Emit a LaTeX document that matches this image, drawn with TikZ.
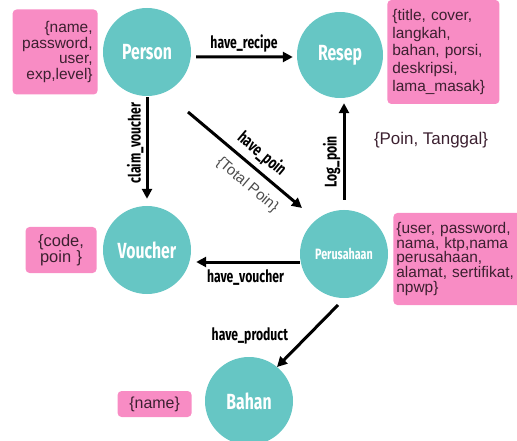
\documentclass[tikz,border=0pt]{standalone}
\usepackage{fontspec}
\setmainfont{Liberation Sans}
\newfontfamily\condfont[FakeStretch=0.72]{Fira Sans}
\usetikzlibrary{arrows.meta,positioning}
\definecolor{entteal}{RGB}{102,198,196}
\definecolor{attrpink}{RGB}{248,140,196}
\definecolor{attrtext}{RGB}{60,32,48}

\begin{document}
\begin{tikzpicture}[
  x=1bp,y=-1bp,
  ent/.style={circle,fill=entteal,text=white,minimum size=88bp,inner sep=0pt,font=\condfont\bfseries\fontsize{22}{22}\selectfont},
  attr/.style={fill=attrpink,rounded corners=4bp,text=attrtext,inner sep=5bp,font=\fontsize{15.5}{15.5}\selectfont},
  rel/.style={-{Triangle[length=10bp,width=10bp]},line width=3bp},
  lbl/.style={font=\condfont\bfseries\fontsize{17}{17}\selectfont,inner sep=2bp}
]
\useasboundingbox (0,0) rectangle (517,441);

\node[ent] (person) at (147,52) {Person};
\node[ent,minimum size=86bp] (resep) at (340,55) {Resep};
\node[ent] (voucher) at (147,250) {Voucher};
\node[ent,font=\condfont\bfseries\fontsize{15}{15}\selectfont] (perusahaan) at (344,254) {Perusahaan};
\node[ent] (bahan) at (249,401) {Bahan};

\node[attr,left=5bp of person,text width=75bp,align=right,minimum height=85bp] (personattr)
  {\{name,\\password,\\user,\\exp,level\}};
\node[attr,right=4bp of resep,yshift=3bp,text width=102bp,align=left,minimum height=104bp,font=\fontsize{15.5}{18}\selectfont] (resepattr)
  {\{title, cover,\\langkah,\\bahan, porsi,\\deskripsi,\\lama\_masak\}};
\node[attr,left=6bp of voucher,text width=61bp,align=center,minimum height=46bp,font=\fontsize{16.5}{15}\selectfont] (voucherattr)
  {\{code,\\poin \}};
\node[attr,right=5bp of perusahaan,yshift=-5bp,inner sep=3bp,text width=130bp,align=left,minimum height=92bp,font=\fontsize{15.5}{15}\selectfont] (perusahaanattr)
  {\{user, password,\\nama, ktp,nama\\perusahaan,\\alamat, sertifikat,\\npwp\}};
\node[attr,left=13bp of bahan,yshift=-3bp,text width=64bp,align=center,minimum height=26bp,font=\fontsize{16}{16}\selectfont] (bahanattr)
  {\{name\}};
\node[text=attrtext,font=\fontsize{17}{17}\selectfont] (logattr) at (431,140) {\{Poin, Tanggal\}};

\draw[rel,shorten <=5bp,shorten >=4bp] ([yshift=-5bp]person.east) -- node[lbl,above=1bp]{have\_recipe} ([yshift=-2bp]resep.west);
\draw[rel,shorten <=1bp,shorten >=7bp] (person.south) -- node[lbl,rotate=90,above=8bp]{claim\_voucher} (voucher.north);
\draw[rel] ([shift={(41,60)}]person.center) -- node[lbl,sloped,above=3bp,pos=0.56]{have\_poin}
  node[sloped,below=6bp,pos=0.62,text=black!70,font=\fontsize{15}{15}\selectfont]{\{Total Poin\}} ([shift={(-42,-46)}]perusahaan.center);
\draw[rel,shorten <=10bp,shorten >=5bp] (perusahaan.north) -- node[lbl,rotate=90,above=8bp,pos=0.36]{Log\_poin} (perusahaan.north |- resep.south);
\draw[rel,shorten >=5bp] ([yshift=-8bp]perusahaan.west) -- node[lbl,below=4bp]{have\_voucher} ([yshift=-8bp]perusahaan.west -| voucher.east);
\draw[rel] ([shift={(-6,51)}]perusahaan.center) -- node[lbl,left=16bp]{have\_product} ([shift={(28,-34)}]bahan.center);
\end{tikzpicture}
\end{document}
